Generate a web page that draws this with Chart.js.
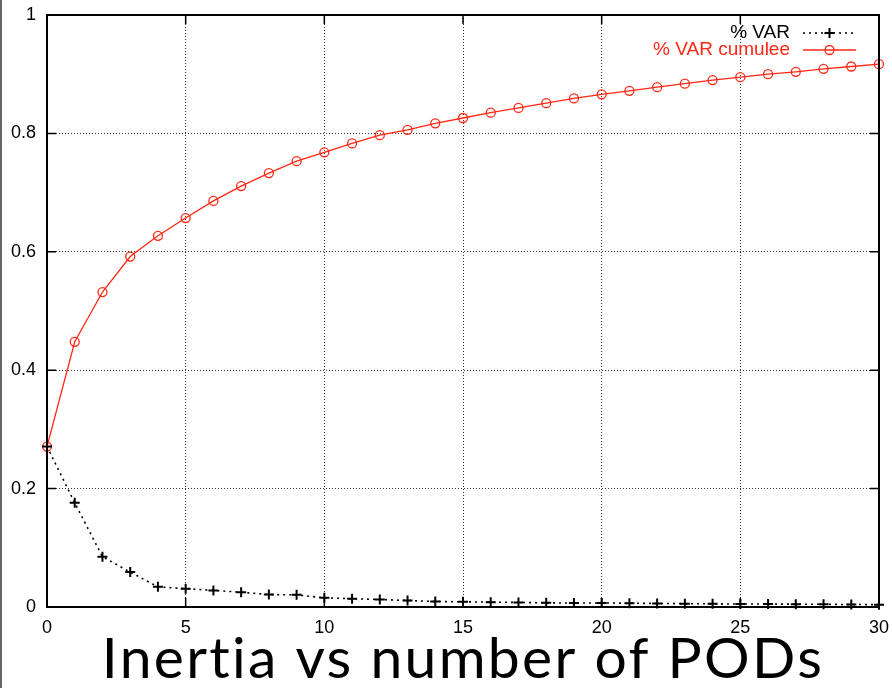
<!DOCTYPE html>
<html>
<head>
<meta charset="utf-8">
<script src="https://cdn.jsdelivr.net/npm/chart.js@4/dist/chart.umd.min.js"></script>
<style>
  html, body { margin: 0; padding: 0; background: #fff; }
  canvas { display: block; }
</style>
</head>
<body>
<canvas id="graphInertia" width="892" height="688"></canvas>
<script>
// number of PODs
const nbPods = [0, 1, 2, 3, 4, 5, 6, 7, 8, 9, 10, 11, 12, 13, 14, 15, 16, 17, 18, 19, 20,
                21, 22, 23, 24, 25, 26, 27, 28, 29, 30];
// % VAR
const varPart = [0.271, 0.176, 0.085, 0.059, 0.034, 0.031, 0.028, 0.025, 0.021, 0.0205, 0.0155,
                 0.014, 0.0127, 0.011, 0.0093, 0.0088, 0.0082, 0.0077, 0.0071, 0.0066, 0.0068,
                 0.0064, 0.006, 0.0056, 0.0054, 0.005, 0.005, 0.0048, 0.0045, 0.0042, 0.004];
// % VAR cumulee
const varCumul = [0.271, 0.448, 0.532, 0.592, 0.627, 0.657, 0.686, 0.711, 0.733, 0.753, 0.768,
                  0.783, 0.797, 0.806, 0.817, 0.826, 0.835, 0.843, 0.851, 0.859, 0.866,
                  0.872, 0.878, 0.884, 0.890, 0.895, 0.900, 0.904, 0.909, 0.913, 0.917];
const xTicks = [0, 5, 10, 15, 20, 25, 30];
const yTicks = [0, 0.2, 0.4, 0.6, 0.8, 1];
const legendLabels = ['% VAR', '% VAR cumulee'];
const titleText = 'Inertia vs number of PODs';

const RED = 'rgb(255,40,20)';
const tickFont = { family: '"Liberation Sans", Arial, sans-serif', size: 18 };

// cadre, ticks vers l'interieur, legende et titre (style gnuplot)
const gnuplotLook = {
    id: 'gnuplotLook',
    afterDraw(chart) {
        const ctx = chart.ctx;
        const a = chart.chartArea;
        const sx = chart.scales.x, sy = chart.scales.y;
        ctx.save();

        // bord gauche de la diapo
        ctx.strokeStyle = '#666';
        ctx.lineWidth = 2;
        ctx.beginPath(); ctx.moveTo(1, 0); ctx.lineTo(1, chart.height); ctx.stroke();

        // cadre
        ctx.strokeStyle = '#000';
        ctx.lineWidth = 2;
        ctx.strokeRect(a.left, a.top, a.right - a.left, a.bottom - a.top);

        // ticks
        ctx.lineWidth = 1.5;
        ctx.beginPath();
        xTicks.forEach(v => {
            const px = sx.getPixelForValue(v);
            ctx.moveTo(px, a.bottom); ctx.lineTo(px, a.bottom - 9);
            ctx.moveTo(px, a.top); ctx.lineTo(px, a.top + 9);
        });
        yTicks.forEach(v => {
            const py = sy.getPixelForValue(v);
            ctx.moveTo(a.left, py); ctx.lineTo(a.left + 9, py);
            ctx.moveTo(a.right, py); ctx.lineTo(a.right - 9, py);
        });
        ctx.stroke();

        // legende
        ctx.font = '19px "Liberation Sans", Arial, sans-serif';
        ctx.textAlign = 'right';
        ctx.textBaseline = 'middle';
        chart.data.datasets.forEach((ds, i) => {
            const ly = a.top + 18 + i * 17;
            const tx = a.right - 89;
            const x1 = a.right - 76, x2 = a.right - 23, xm = (x1 + x2) / 2;
            ctx.fillStyle = ds.borderColor;
            ctx.fillText(legendLabels[i], tx, ly);
            ctx.strokeStyle = ds.borderColor;
            ctx.lineWidth = ds.borderWidth;
            ctx.setLineDash(ds.borderDash || []);
            ctx.beginPath(); ctx.moveTo(x1, ly); ctx.lineTo(x2, ly); ctx.stroke();
            ctx.setLineDash([]);
            ctx.lineWidth = ds.pointBorderWidth;
            ctx.beginPath();
            if (ds.pointStyle === 'cross') {
                ctx.moveTo(xm - ds.pointRadius, ly); ctx.lineTo(xm + ds.pointRadius, ly);
                ctx.moveTo(xm, ly - ds.pointRadius); ctx.lineTo(xm, ly + ds.pointRadius);
            } else {
                ctx.arc(xm, ly, ds.pointRadius, 0, Math.PI * 2);
            }
            ctx.stroke();
        });

        // titre
        ctx.fillStyle = '#000';
        ctx.textAlign = 'center';
        ctx.textBaseline = 'alphabetic';
        ctx.font = '57px Lato, "Open Sans", sans-serif';
        ctx.letterSpacing = '2.3px';
        ctx.fillText(titleText, (a.left + a.right) / 2, 678);
        ctx.restore();
    }
};

const ctx = document.getElementById('graphInertia').getContext('2d');
const graphInertia = new Chart(ctx, {
    type: 'line',
    data: {
        datasets: [
            {
                label: legendLabels[0],
                data: nbPods.map((x, i) => ({ x: x, y: varPart[i] })),
                borderColor: '#000',
                borderWidth: 1.6,
                borderDash: [2, 4],
                pointStyle: 'cross',
                pointRadius: 5,
                pointBorderWidth: 2,
                pointBorderColor: '#000',
                pointBackgroundColor: 'rgba(0,0,0,0)',
                tension: 0,
                clip: false
            },
            {
                label: legendLabels[1],
                data: nbPods.map((x, i) => ({ x: x, y: varCumul[i] })),
                borderColor: RED,
                borderWidth: 1.3,
                pointStyle: 'circle',
                pointRadius: 4.5,
                pointBorderWidth: 1.3,
                pointBorderColor: RED,
                pointBackgroundColor: 'rgba(0,0,0,0)',
                tension: 0,
                clip: false
            }
        ]
    },
    options: {
        responsive: false,
        animation: false,
        devicePixelRatio: 1,
        layout: { padding: { top: 15, right: 13, left: 0, bottom: 0 } },
        plugins: {
            legend: { display: false },
            title: { display: false },
            tooltip: { enabled: false }
        },
        scales: {
            x: {
                type: 'linear',
                min: 0,
                max: 30,
                afterBuildTicks: s => { s.ticks = xTicks.map(v => ({ value: v })); },
                afterFit: s => { s.height = 81; s.paddingLeft = 0; s.paddingRight = 0; },
                ticks: { color: '#000', font: tickFont, padding: 10, maxRotation: 0 },
                grid: { color: '#333', lineWidth: 1, drawTicks: false },
                border: { display: false, dash: [1, 2] }
            },
            y: {
                min: 0,
                max: 1,
                afterBuildTicks: s => { s.ticks = yTicks.map(v => ({ value: v })); },
                afterFit: s => { s.width = 47; s.paddingTop = 0; s.paddingBottom = 0; },
                ticks: {
                    color: '#000', font: tickFont, padding: 11,
                    callback: v => String(Math.round(v * 10) / 10)
                },
                grid: { color: '#333', lineWidth: 1, drawTicks: false },
                border: { display: false, dash: [1, 2] }
            }
        }
    },
    plugins: [gnuplotLook]
});
</script>
</body>
</html>
